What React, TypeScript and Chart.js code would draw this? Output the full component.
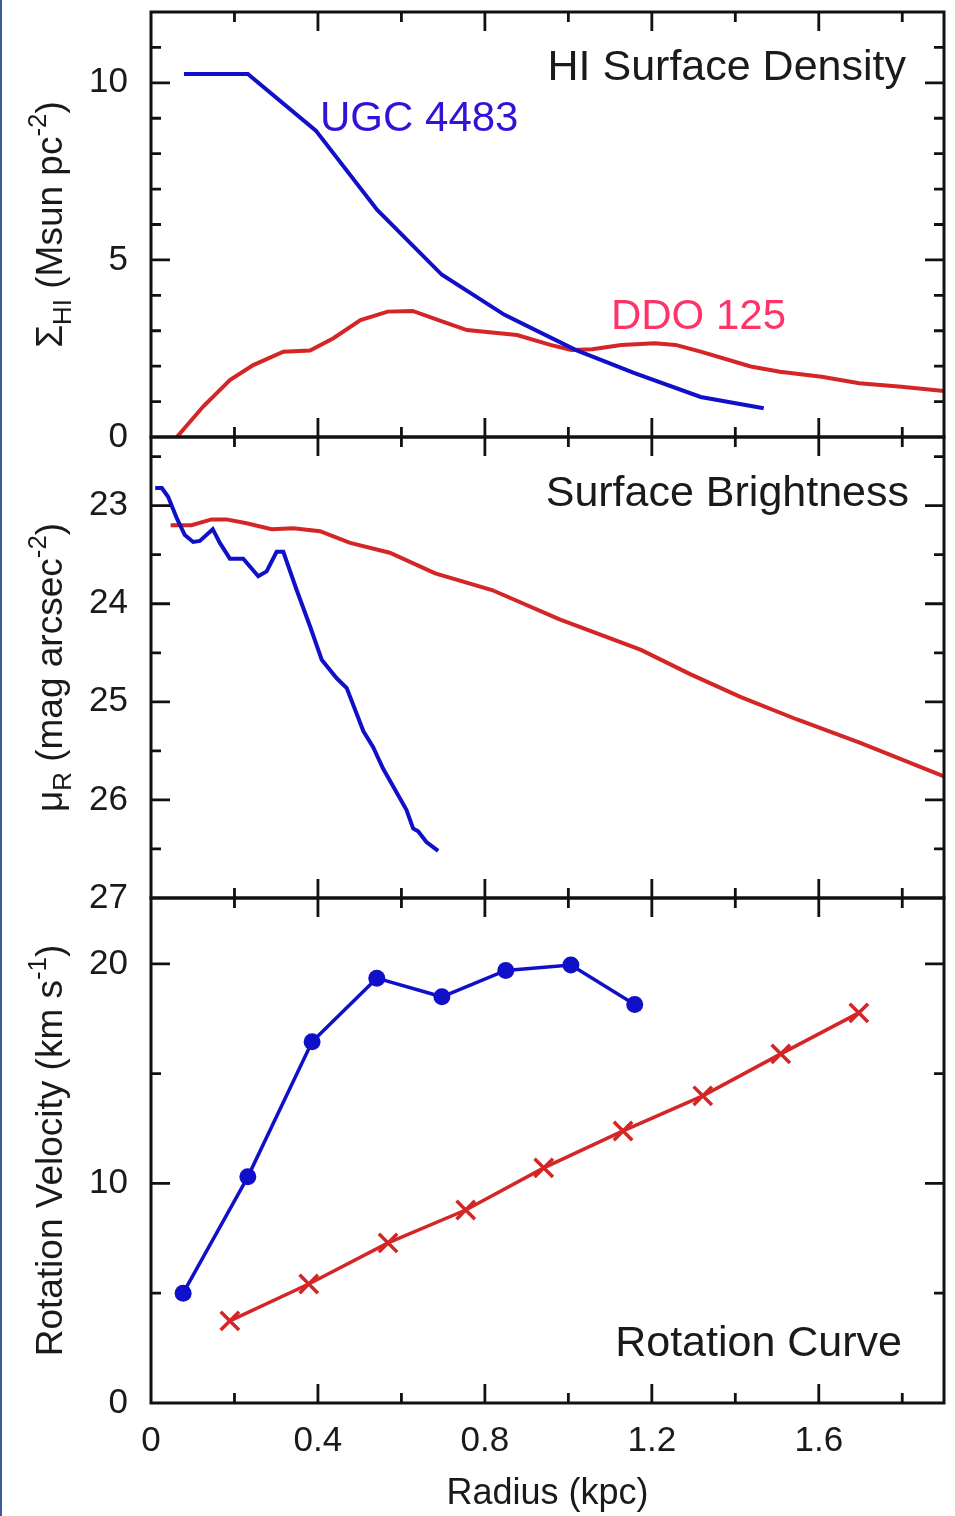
import React, { useEffect, useRef } from "react";
import { Chart, registerables } from "chart.js";

Chart.register(...registerables);

// ---------- axis ticks ----------
const radiusTickLabels = [0, 0.4, 0.8, 1.2, 1.6];
const radiusMajorTicks = [0.4, 0.8, 1.2, 1.6];
const radiusMinorTicks = [0.2, 0.6, 1.0, 1.4, 1.8];

const hiTickLabels = [0, 5, 10];
const hiMajorTicks = [5, 10];
const hiMinorTicks = [1, 2, 3, 4, 6, 7, 8, 9, 11];

const muTickLabels = [23, 24, 25, 26, 27];
const muMajorTicks = [23, 24, 25, 26];
const muMinorTicks = [22.5, 23.5, 24.5, 25.5, 26.5];

const vTickLabels = [0, 10, 20];
const vMajorTicks = [10, 20];
const vMinorTicks = [5, 15];

// ---------- panel 1: HI surface density ----------
const hiUgcRadius = [0.079, 0.232, 0.395, 0.542, 0.697, 0.847, 1.017, 1.157, 1.317, 1.468];
const hiUgcDensity = [10.25, 10.25, 8.65, 6.41, 4.58, 3.45, 2.46, 1.81, 1.13, 0.81];

const hiDdoRadius = [0.062, 0.125, 0.189, 0.245, 0.317, 0.381, 0.437, 0.502, 0.567, 0.627, 0.687, 0.757, 0.877, 0.957, 1.007, 1.057, 1.127, 1.207, 1.257, 1.317, 1.437, 1.507, 1.607, 1.697, 1.798, 1.9];
const hiDdoDensity = [0, 0.86, 1.61, 2.03, 2.41, 2.44, 2.79, 3.3, 3.54, 3.56, 3.31, 3.02, 2.88, 2.6, 2.46, 2.48, 2.6, 2.65, 2.6, 2.41, 1.99, 1.84, 1.7, 1.52, 1.42, 1.3];

// ---------- panel 2: surface brightness ----------
const muUgcRadius = [0.01, 0.026, 0.041, 0.062, 0.081, 0.101, 0.117, 0.148, 0.165, 0.189, 0.221, 0.257, 0.277, 0.301, 0.317, 0.349, 0.381, 0.409, 0.445, 0.469, 0.509, 0.532, 0.556, 0.612, 0.628, 0.64, 0.66, 0.688];
const muUgcMag = [22.82, 22.82, 22.91, 23.13, 23.3, 23.37, 23.36, 23.24, 23.38, 23.54, 23.54, 23.72, 23.67, 23.47, 23.47, 23.86, 24.23, 24.57, 24.76, 24.86, 25.3, 25.46, 25.68, 26.1, 26.29, 26.32, 26.43, 26.52];

const muDdoRadius = [0.047, 0.097, 0.145, 0.181, 0.229, 0.289, 0.341, 0.405, 0.477, 0.572, 0.681, 0.817, 0.979, 1.174, 1.293, 1.412, 1.548, 1.701, 1.9];
const muDdoMag = [23.2, 23.2, 23.14, 23.14, 23.18, 23.24, 23.23, 23.26, 23.38, 23.48, 23.69, 23.86, 24.16, 24.47, 24.72, 24.95, 25.18, 25.42, 25.76];

// ---------- panel 3: rotation curve ----------
const rcUgcRadius = [0.077, 0.232, 0.386, 0.541, 0.697, 0.85, 1.006, 1.159];
const rcUgcVelocity = [5.0, 10.3, 16.45, 19.35, 18.5, 19.7, 19.95, 18.15];

const rcDdoRadius = [0.189, 0.378, 0.568, 0.754, 0.941, 1.131, 1.322, 1.509, 1.696];
const rcDdoVelocity = [3.74, 5.42, 7.29, 8.79, 10.71, 12.39, 13.99, 15.9, 17.77];

// ---------- text ----------
const panelTitles = ["HI Surface Density", "Surface Brightness", "Rotation Curve"];
const galaxyNames = ["UGC 4483", "DDO 125"];

const FONT = '"Liberation Sans", Arial, Helvetica, sans-serif';
const BLUE = "#1010c8";
const RED = "#d42626";
const INK = "#1a1a1a";

type Seg = { text: string; kind?: "sub" | "sup" };

const yTitles: Seg[][] = [
  [{ text: "Σ" }, { text: "HI", kind: "sub" }, { text: " (Msun pc" }, { text: "-2", kind: "sup" }, { text: ")" }],
  [{ text: "μ" }, { text: "R", kind: "sub" }, { text: " (mag arcsec" }, { text: "-2", kind: "sup" }, { text: ")" }],
  [{ text: "Rotation Velocity (km s" }, { text: "-1", kind: "sup" }, { text: ")" }],
];

const pts = (xs: number[], ys: number[]) => xs.map((x, i) => ({ x, y: ys[i] }));

function drawRich(ctx: CanvasRenderingContext2D, segs: Seg[], cx: number, cy: number, size: number) {
  ctx.save();
  ctx.translate(cx, cy);
  ctx.rotate(-Math.PI / 2);
  ctx.textAlign = "left";
  ctx.textBaseline = "alphabetic";
  ctx.fillStyle = INK;
  const measured = segs.map((s) => {
    const sz = s.kind ? size * 0.7 : size;
    ctx.font = `${sz}px ${FONT}`;
    return { ...s, sz, w: ctx.measureText(s.text).width };
  });
  const total = measured.reduce((a, s) => a + s.w, 0);
  let x = -total / 2;
  for (const s of measured) {
    ctx.font = `${s.sz}px ${FONT}`;
    const dy = s.kind === "sub" ? size * 0.24 : s.kind === "sup" ? -size * 0.42 : 0;
    ctx.fillText(s.text, x, dy);
    x += s.w;
  }
  ctx.restore();
}

const framePlugin = {
  id: "framePlugin",
  afterDatasetsDraw(chart: any) {
    const ctx: CanvasRenderingContext2D = chart.ctx;
    const xs = chart.scales.x;
    const { left: L, right: R } = chart.chartArea;
    const panels = [
      { s: chart.scales.yHI, major: hiMajorTicks, minor: hiMinorTicks },
      { s: chart.scales.yMu, major: muMajorTicks, minor: muMinorTicks },
      { s: chart.scales.yV, major: vMajorTicks, minor: vMinorTicks },
    ];
    ctx.save();
    ctx.strokeStyle = "#111";
    ctx.lineCap = "butt";
    panels.forEach((p, idx) => {
      const top = p.s.top;
      const bot = p.s.bottom;
      ctx.lineWidth = 2.8;
      ctx.beginPath();
      const yt = (vals: number[], len: number) =>
        vals.forEach((v) => {
          const py = p.s.getPixelForValue(v);
          ctx.moveTo(L, py);
          ctx.lineTo(L + len, py);
          ctx.moveTo(R, py);
          ctx.lineTo(R - len, py);
        });
      yt(p.major, 19);
      yt(p.minor, 10);
      const xt = (vals: number[], len: number) =>
        vals.forEach((v) => {
          const px = xs.getPixelForValue(v);
          ctx.moveTo(px, top);
          ctx.lineTo(px, top + len);
          ctx.moveTo(px, bot);
          ctx.lineTo(px, bot - len);
        });
      xt(radiusMajorTicks, 19);
      xt(radiusMinorTicks, 10);
      ctx.stroke();
      ctx.lineWidth = 3;
      ctx.strokeRect(L, top, R - L, bot - top);

      drawRich(ctx, yTitles[idx], 62, (top + bot) / 2, 37);
    });

    // panel titles
    ctx.fillStyle = INK;
    ctx.font = `43px ${FONT}`;
    ctx.textAlign = "right";
    ctx.textBaseline = "alphabetic";
    ctx.fillText(panelTitles[0], R - 38, chart.scales.yHI.top + 68);
    ctx.fillText(panelTitles[1], R - 35, chart.scales.yMu.top + 69);
    ctx.fillText(panelTitles[2], R - 42, chart.scales.yV.bottom - 47);

    // galaxy names
    ctx.textAlign = "left";
    ctx.font = `42px ${FONT}`;
    ctx.fillStyle = "#3311d8";
    ctx.fillText(galaxyNames[0], xs.getPixelForValue(0.405), chart.scales.yHI.getPixelForValue(8.64));
    ctx.fillStyle = "#ff3366";
    ctx.fillText(galaxyNames[1], xs.getPixelForValue(1.102), chart.scales.yHI.getPixelForValue(3.05));
    ctx.restore();
  },
};

const fitY = (s: any) => {
  s.width = 151;
  s.paddingTop = 0;
  s.paddingBottom = 0;
};

const yCommon = (labels: number[]) => ({
  type: "linear" as const,
  position: "left" as const,
  stack: "panels",
  grid: { display: false, drawTicks: false },
  border: { display: false },
  ticks: {
    padding: 23,
    color: INK,
    font: { family: FONT, size: 35 },
    autoSkip: false,
    callback: (v: any) => String(Number(v)),
  },
  afterBuildTicks: (s: any) => {
    s.ticks = labels.map((v) => ({ value: v }));
  },
  afterFit: fitY,
});

export default function App() {
  const ref = useRef<HTMLCanvasElement | null>(null);

  useEffect(() => {
    if (!ref.current) return;
    const chart = new Chart(ref.current, {
      type: "line",
      data: {
        datasets: [
          { label: "UGC 4483 HI", data: pts(hiUgcRadius, hiUgcDensity), yAxisID: "yHI", borderColor: BLUE, borderWidth: 4, pointRadius: 0, tension: 0 },
          { label: "DDO 125 HI", data: pts(hiDdoRadius, hiDdoDensity), yAxisID: "yHI", borderColor: RED, borderWidth: 4, pointRadius: 0, tension: 0 },
          { label: "UGC 4483 mu", data: pts(muUgcRadius, muUgcMag), yAxisID: "yMu", borderColor: BLUE, borderWidth: 4, pointRadius: 0, tension: 0 },
          { label: "DDO 125 mu", data: pts(muDdoRadius, muDdoMag), yAxisID: "yMu", borderColor: RED, borderWidth: 4, pointRadius: 0, tension: 0 },
          {
            label: "UGC 4483 V", data: pts(rcUgcRadius, rcUgcVelocity), yAxisID: "yV", borderColor: BLUE, borderWidth: 3.5, tension: 0,
            pointStyle: "circle", pointRadius: 8.5, pointBackgroundColor: BLUE, pointBorderColor: BLUE, pointBorderWidth: 0,
          },
          {
            label: "DDO 125 V", data: pts(rcDdoRadius, rcDdoVelocity), yAxisID: "yV", borderColor: RED, borderWidth: 3.5, tension: 0,
            pointStyle: "crossRot", pointRadius: 13, pointBorderColor: RED, pointBackgroundColor: RED, pointBorderWidth: 3.5,
          },
        ],
      },
      options: {
        responsive: false,
        animation: false,
        devicePixelRatio: 1,
        layout: { autoPadding: false, padding: { top: 12, right: 11, left: 0, bottom: 0 } },
        plugins: { legend: { display: false }, tooltip: { enabled: false } },
        scales: {
          x: {
            type: "linear",
            position: "bottom",
            min: 0,
            max: 1.9,
            grid: { display: false, drawTicks: false },
            border: { display: false },
            ticks: {
              padding: 17,
              color: INK,
              font: { family: FONT, size: 35 },
              autoSkip: false,
              maxRotation: 0,
              callback: (v: any) => String(Number(v)),
            },
            afterBuildTicks: (s: any) => {
              s.ticks = radiusTickLabels.map((v) => ({ value: v }));
            },
            title: { display: true, text: "Radius (kpc)", color: INK, font: { family: FONT, size: 36 }, padding: { top: 0, bottom: 0 } },
            afterFit: (s: any) => {
              s.height = 113;
              s.paddingLeft = 0;
              s.paddingRight = 0;
            },
          },
          yV: { ...yCommon(vTickLabels), min: 0, max: 23, stackWeight: 505 },
          yMu: { ...yCommon(muTickLabels), min: 22.3, max: 27, reverse: true, stackWeight: 461 },
          yHI: { ...yCommon(hiTickLabels), min: 0, max: 12, stackWeight: 425 },
        },
      } as any,
      plugins: [framePlugin],
    });
    return () => chart.destroy();
  }, []);

  return (
    <div style={{ position: "absolute", left: 0, top: 0, width: 955, height: 1516, background: "#fff" }}>
      <canvas ref={ref} width={955} height={1516} style={{ display: "block", width: 955, height: 1516 }} />
      <div style={{ position: "absolute", left: 0, top: 0, width: 2, height: 1516, background: "#3b5b9b" }} />
    </div>
  );
}
